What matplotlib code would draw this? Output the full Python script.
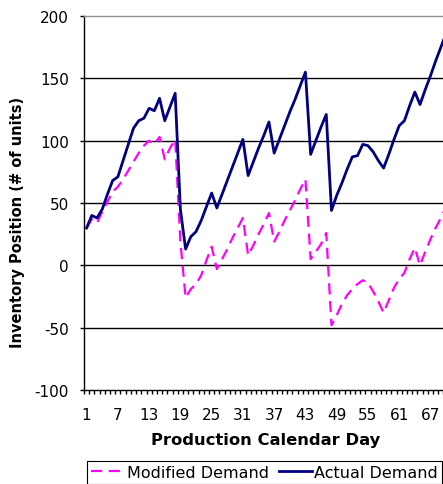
import matplotlib
matplotlib.use("Agg")
import matplotlib.pyplot as plt
from matplotlib.lines import Line2D

plt.rcParams['font.family'] = ['DejaVu Sans']

days = list(range(1, 71))
actual_demand = [30, 40, 38, 45, 57, 68, 71, 84, 97, 110,
                 116, 118, 126, 124, 134, 116, 127, 138, 45, 13,
                 23, 27, 36, 47, 58, 46, 57, 68, 79, 90,
                 101, 72, 83, 94, 104, 115, 90, 101, 112, 123,
                 133, 144, 155, 89, 100, 111, 121, 44, 56, 66,
                 77, 87, 88, 97, 96, 91, 84, 78, 89, 101,
                 112, 116, 128, 139, 129, 141, 152, 164, 175, 186]
modified_demand = [30, 37, 34, 43, 51, 59, 63, 69, 76, 83,
                   90, 96, 100, 97, 103, 85, 94, 101, 19, -26,
                   -19, -15, -8, 4, 15, -3, 5, 13, 22, 30,
                   38, 8, 16, 25, 33, 42, 19, 27, 36, 44,
                   52, 61, 69, 5, 11, 17, 26, -48, -40, -31,
                   -24, -19, -15, -12, -14, -21, -29, -38, -28, -18,
                   -11, -6, 5, 14, 0, 11, 21, 30, 38, 47]
x_tick_days = [1, 7, 13, 19, 25, 31, 37, 43, 49, 55, 61, 67]
y_ticks = [-100, -50, 0, 50, 100, 150, 200]

W, H = 443, 485
fig = plt.figure(figsize=(W / 100, H / 100), dpi=100)
ax = fig.add_axes([84 / W, 94 / H, 364.7 / W, 374 / H])

for yv in [-50, 0, 50, 100, 150]:
    ax.axhline(yv, color='black', lw=1.0, zorder=1)

ax.plot(days, modified_demand, color='#FF00FF', lw=1.6, dashes=(5, 3),
        zorder=3, label='Modified Demand')
ax.plot(days, actual_demand, color='#000080', lw=2.0, zorder=4,
        label='Actual Demand')

ax.set_xlim(0.5, 70.5)
ax.set_ylim(-100, 200)
ax.set_yticks(y_ticks)
ax.set_yticklabels([str(v) for v in y_ticks], fontsize=11)
ax.tick_params(axis='y', direction='out', length=3, width=1, pad=8, colors='black')

ax.set_xticks(x_tick_days)
ax.set_xticklabels([str(d) for d in x_tick_days], fontsize=11)
ax.tick_params(axis='x', which='major', length=0, pad=12)
ax.set_xticks([d + 0.5 for d in [0] + days], minor=True)
ax.tick_params(axis='x', which='minor', direction='out', length=3, width=1, colors='black')

for s in ['left', 'bottom']:
    ax.spines[s].set_color('black')
    ax.spines[s].set_linewidth(1.0)
ax.spines['top'].set_color('#909090')
ax.spines['top'].set_linewidth(1.0)
ax.spines['right'].set_visible(False)

fig.text(266 / W, 1 - 441 / H, 'Production Calendar Day', fontsize=11.8,
         fontweight='bold', ha='center', va='center')
fig.text(18 / W, 1 - 222 / H, 'Inventory Position (# of units)', fontsize=10.5,
         fontweight='bold', ha='center', va='center', rotation=90)

handles = [Line2D([], [], color='#FF00FF', lw=1.6, dashes=(5, 3)),
           Line2D([], [], color='#000080', lw=2.0)]
leg = fig.legend(handles, ['Modified Demand', 'Actual Demand'], ncol=2,
                 loc='upper left', bbox_to_anchor=(87 / W, 1 - 462 / H),
                 fontsize=11.5, frameon=True, fancybox=False, framealpha=1,
                 edgecolor='black', handlelength=2.1, handletextpad=0.15,
                 columnspacing=0.6, borderpad=0.25, borderaxespad=0)
leg.get_frame().set_linewidth(0.8)

fig.savefig('out.png', dpi=100)
